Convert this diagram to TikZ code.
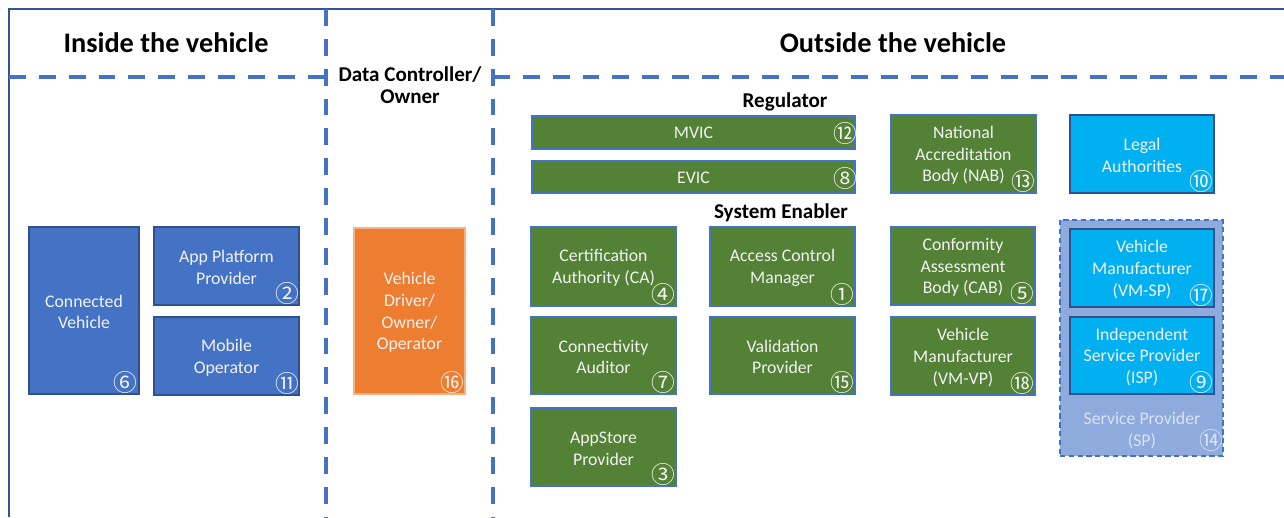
\documentclass[tikz,border=0pt]{standalone}
\usepackage{fontspec}
\setmainfont{Carlito}
\newfontfamily\cjk{Noto Sans CJK SC}
\usetikzlibrary{fit,calc}
\definecolor{dblue}{HTML}{4472C4}
\definecolor{framec}{HTML}{2F5597}
\definecolor{bedge}{HTML}{2F528F}
\definecolor{orng}{HTML}{ED7D31}
\definecolor{oedge}{HTML}{F4B183}
\definecolor{grn}{HTML}{538135}
\definecolor{gedge}{HTML}{4472C4}
\definecolor{lblue}{HTML}{00B0F0}
\definecolor{spfill}{HTML}{8FAADC}
\definecolor{sptext}{HTML}{DAE3F3}
\definecolor{boxtext}{HTML}{F2F2F2}
\tikzset{
  sep/.style={draw=dblue, line width=2.1pt, dash pattern=on 9.6pt off 7.4pt},
  lbl/.style={inner sep=0pt, text=boxtext, align=center, yshift=-0.03cm,
    font=\fontsize{10.1}{12.3}\selectfont},
  basebox/.style={inner sep=0pt, line width=0.6pt},
  bluebox/.style={basebox, fill=dblue, draw=bedge},
  orangebox/.style={basebox, fill=orng, draw=oedge},
  greenbox/.style={basebox, fill=grn, draw=gedge},
  lbluebox/.style={basebox, fill=lblue, draw=bedge},
  spbox/.style={inner sep=0pt, fill=spfill, draw=dblue, line width=0.8pt, dash pattern=on 3pt off 2pt},
  num/.style={inner sep=0pt, text=boxtext, font=\cjk\fontsize{13.5}{14}\selectfont},
  head/.style={inner sep=0pt, font=\bfseries\fontsize{16.1}{19}\selectfont},
  subhead/.style={inner sep=0pt, align=center, font=\bfseries\fontsize{12}{12.4}\selectfont},
}
\begin{document}
\begin{tikzpicture}[x=0.02cm,y=-0.02cm]
\useasboundingbox (0,0) rectangle (1284,517);
% frame
\coordinate (fbl) at (9,517);
\coordinate (ftl) at (9,9);
\coordinate (ftr) at (1284,9);
\draw[framec, line width=1.1pt] (fbl) -- (ftl) -- (ftr);
% separators
\coordinate (v1t) at (326,9); \coordinate (v1b) at (326,517);
\coordinate (v2t) at (493,9); \coordinate (v2b) at (493,517);
\coordinate (h1a) at (9,77); \coordinate (h1b) at (326,77);
\coordinate (h2a) at (493,77); \coordinate (h2b) at (1284,77);
\draw[sep] (v1t) -- (v1b);
\draw[sep] (v2t) -- (v2b);
\draw[sep] (h1a) -- (h1b);
\draw[sep] (h2a) -- (h2b);
% headers
\node[head] (hin) at (166,43) {Inside the vehicle};
\node[head] (hout) at (893,43) {Outside the vehicle};
\node[subhead] (hdc) at (410,85) {Data Controller/\\Owner};
\node[subhead] (hreg) at (785,102) {Regulator};
\node[subhead] (hse) at (781,213) {System Enabler};
% inside
\node[bluebox, fit={(29,227) (139,394)}, label={[lbl]center:{Connected\\Vehicle}}] (cv) {};
\node[bluebox, fit={(154,227) (299,305)}, label={[lbl]center:{App Platform\\Provider}}] (app) {};
\node[bluebox, fit={(154,317) (299,395)}, label={[lbl]center:{Mobile\\Operator}}] (mob) {};
% data controller
\node[orangebox, fit={(354,228) (465,394)}, label={[lbl]center:{Vehicle\\Driver/\\Owner/\\Operator}}] (drv) {};
% regulator
\node[greenbox, fit={(532,116) (855,149)}, label={[lbl,yshift=0.02cm]center:{MVIC}}] (mvic) {};
\node[greenbox, fit={(532,161) (855,193)}, label={[lbl,yshift=0.02cm]center:{EVIC}}] (evic) {};
\node[greenbox, fit={(891,115) (1036,193)}, label={[lbl]center:{National\\Accreditation\\Body (NAB)}}] (nab) {};
\node[lbluebox, fit={(1070,115) (1214,193)}, label={[lbl]center:{Legal\\Authorities}}] (legal) {};
% system enabler
\node[greenbox, fit={(531,227) (676,306)}, label={[lbl]center:{Certification\\Authority (CA)}}] (ca) {};
\node[greenbox, fit={(710,227) (855,306)}, label={[lbl]center:{Access Control\\Manager}}] (acm) {};
\node[greenbox, fit={(891,227) (1035,305)}, label={[lbl]center:{Conformity\\Assessment\\Body (CAB)}}] (cab) {};
\node[greenbox, fit={(531,317) (676,394)}, label={[lbl]center:{Connectivity\\Auditor}}] (conn) {};
\node[greenbox, fit={(710,317) (855,394)}, label={[lbl]center:{Validation\\Provider}}] (val) {};
\node[greenbox, fit={(891,317) (1035,395)}, label={[lbl]center:{Vehicle\\Manufacturer\\(VM-VP)}}] (vmvp) {};
\node[greenbox, fit={(531,408) (676,486)}, label={[lbl]center:{AppStore\\Provider}}] (aps) {};
% service provider
\node[spbox, fit={(1060,220) (1223,456)}] (sp) {};
\node[lbluebox, fit={(1070,229) (1214,307)}, label={[lbl]center:{Vehicle\\Manufacturer\\(VM-SP)}}] (vmsp) {};
\node[lbluebox, fit={(1070,317) (1214,394)}, label={[lbl]center:{Independent\\Service Provider\\(ISP)}}] (isp) {};
\node[lbl, text=sptext] (sptxt) at (1142,429) {Service Provider\\(SP)};
% numbers
\node[num] (n6) at ($(cv.south east)+(-14,-12)$) {⑥};
\node[num] (n2) at ($(app.south east)+(-12,-12)$) {②};
\node[num] (n11) at ($(mob.south east)+(-12,-12)$) {⑪};
\node[num] (n16) at ($(drv.south east)+(-13,-12)$) {⑯};
\node[num] (n12) at ($(mvic.south east)+(-10,-16)$) {⑫};
\node[num] (n8) at ($(evic.south east)+(-10,-15)$) {⑧};
\node[num] (n13) at ($(nab.south east)+(-13,-12)$) {⑬};
\node[num] (n10) at ($(legal.south east)+(-13,-12)$) {⑩};
\node[num] (n4) at ($(ca.south east)+(-13,-12)$) {④};
\node[num] (n1) at ($(acm.south east)+(-13,-12)$) {①};
\node[num] (n5) at ($(cab.south east)+(-13,-12)$) {⑤};
\node[num] (n7) at ($(conn.south east)+(-13,-12)$) {⑦};
\node[num] (n15) at ($(val.south east)+(-13,-12)$) {⑮};
\node[num] (n18) at ($(vmvp.south east)+(-13,-12)$) {⑱};
\node[num] (n3) at ($(aps.south east)+(-13,-12)$) {③};
\node[num] (n17) at ($(vmsp.south east)+(-13,-12)$) {⑰};
\node[num] (n9) at ($(isp.south east)+(-13,-12)$) {⑨};
\node[num, text=sptext] (n14) at ($(sp.south east)+(-12,-16)$) {⑭};
\end{tikzpicture}
\end{document}
